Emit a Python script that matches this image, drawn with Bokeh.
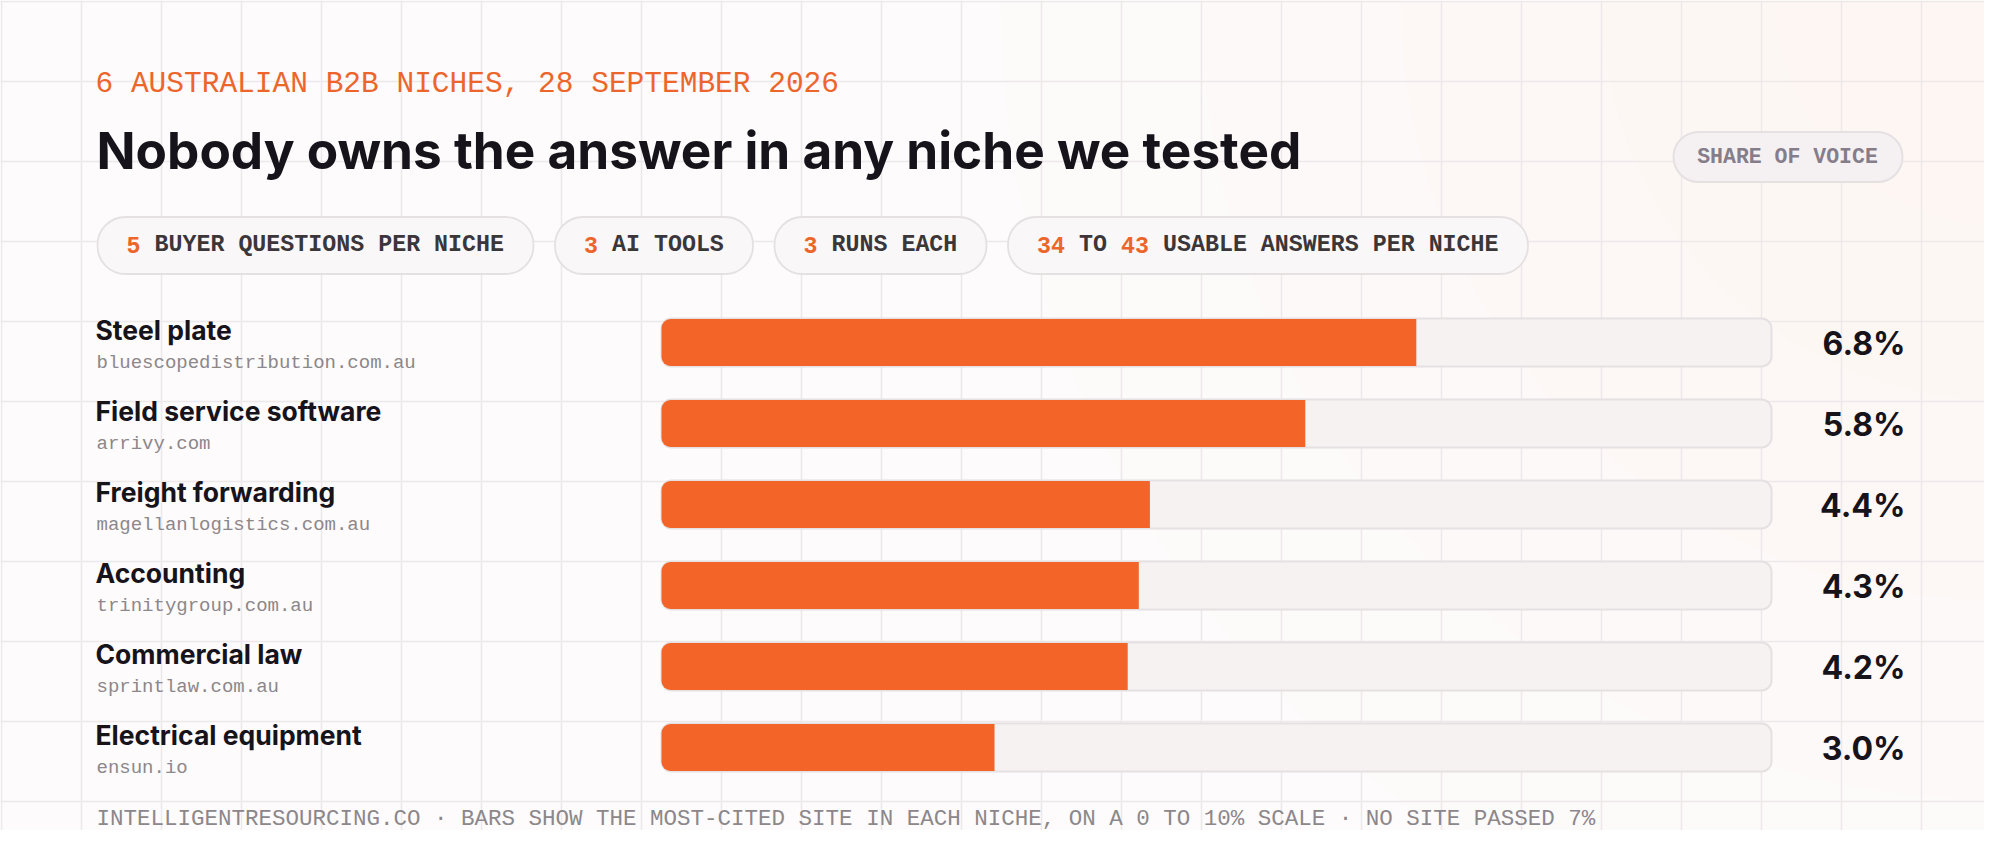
from bokeh.plotting import figure
from bokeh.models import Range1d, ColumnDataSource
from bokeh.core.properties import value
from bokeh.embed import file_html
from bokeh.resources import INLINE

# ---------------- data ----------------
niches = ["Steel plate", "Field service software", "Freight forwarding",
          "Accounting", "Commercial law", "Electrical equipment"]
top_sites = ["bluescopedistribution.com.au", "arrivy.com", "magellanlogistics.com.au",
             "trinitygroup.com.au", "sprintlaw.com.au", "ensun.io"]
share_pct = [6.8, 5.8, 4.4, 4.3, 4.2, 3.0]
scale_max = 10

kicker = "6 AUSTRALIAN B2B NICHES, 28 SEPTEMBER 2026"
headline = "Nobody owns the answer in any niche we tested"
badge = "SHARE OF VOICE"
chip_parts = [["5", "BUYER QUESTIONS PER NICHE"],
              ["3", "AI TOOLS"],
              ["3", "RUNS EACH"],
              ["34", "TO", "43", "USABLE ANSWERS PER NICHE"]]
chip_is_number = [[True, False], [True, False], [True, False], [True, False, True, False]]
footer = ("INTELLIGENTRESOURCING.CO \u00b7 BARS SHOW THE MOST-CITED SITE IN EACH NICHE, "
          "ON A 0 TO 10% SCALE \u00b7 NO SITE PASSED 7%")

# ---------------- style / layout ----------------
BG = "#fdfbfc"
GRID = "#ede8ea"
ORANGE = "#f26427"
ORANGE_TXT = "#ec662b"
INK = "#17131a"
CHIP_INK = "#3a3639"
MUTED = "#8c878a"
BADGE_INK = "#857d8a"
TRACK_FILL = "#f6f2f2"
TRACK_LINE = "#e5e0e2"
SANS = value("Inter")
MONO = value("Liberation Mono")

W, H = 1984, 830
X0_PX, PX_PER_PCT = 661, 111.0      # px of 0 %, px per 1 %
ROW0_PX, ROW_PX = 342, 81.0          # px of first row centre, row pitch


def X(px):
    return (px - X0_PX) / PX_PER_PCT


def Y(py):
    return (py - ROW0_PX) / ROW_PX


p = figure(width=W, height=H,
           x_range=Range1d(X(0), X(W)),
           y_range=Range1d(Y(H), Y(0)),
           output_backend="svg", toolbar_location=None,
           x_axis_location=None, y_axis_location=None,
           min_border=0, background_fill_color=BG, border_fill_color=BG,
           outline_line_color=None)
p.grid.visible = False

# warm glow, top right
for sz in [2000, 1600, 1200, 800, 450]:
    p.scatter(x=[X(2000)], y=[Y(0)], size=sz, marker="circle",
              fill_color="#f58a55", fill_alpha=0.01, line_color=None)

# background grid
gx = [1 + 80 * k for k in range(25)]
gy = [1 + 80 * k for k in range(11)]
p.segment(x0=[X(v) for v in gx], x1=[X(v) for v in gx],
          y0=[Y(0)] * len(gx), y1=[Y(846)] * len(gx),
          line_color=GRID, line_width=1.5)
p.segment(x0=[X(0)] * len(gy), x1=[X(2000)] * len(gy),
          y0=[Y(v) for v in gy], y1=[Y(v) for v in gy],
          line_color=GRID, line_width=1.5)

# kicker + headline
p.text(x=[X(95)], y=[Y(83.5)], text=[kicker], text_font=MONO, text_font_size="29.5px",
       text_color=ORANGE_TXT, text_baseline="middle")
p.text(x=[X(96)], y=[Y(149)], text=[headline], text_font=SANS, text_font_size="51.3px",
       text_font_style="bold", text_color=INK, text_baseline="middle")

# badge
p.hbar(y=[Y(156.5)], height=50 / ROW_PX, left=[X(1673)], right=[X(1902)],
       fill_color="#f5f1f2", line_color=TRACK_LINE, line_width=2, border_radius=25)
p.text(x=[X(1787)], y=[Y(156.5)], text=[badge], text_font=MONO, text_font_size="21.5px",
       text_font_style="bold", text_color=BADGE_INK, text_baseline="middle",
       text_align="center")

# chips
ADV = 14.0
chip_left = 97
for parts, nums in zip(chip_parts, chip_is_number):
    nchar = sum(len(s) for s in parts) + len(parts) - 1
    right = chip_left + 58 + nchar * ADV
    p.hbar(y=[Y(245)], height=57 / ROW_PX, left=[X(chip_left)], right=[X(right)],
           fill_color="#faf7f8", line_color=TRACK_LINE, line_width=1.8, border_radius=28)
    cx = chip_left + 29
    for s, isnum in zip(parts, nums):
        p.text(x=[X(cx)], y=[Y(244.5)], text=[s], text_font=MONO, text_font_size="23.3px",
               text_font_style="bold", text_color=ORANGE_TXT if isnum else CHIP_INK,
               text_baseline="middle")
        cx += (len(s) + 1) * ADV
    chip_left = right + 21.5

# rows
rows = list(range(len(niches)))
src = ColumnDataSource(dict(
    row=rows, share=share_pct, niche=niches, site=top_sites,
    label=[f"{v:.1f}%" for v in share_pct],
    name_y=[r - 13 / ROW_PX for r in rows],
    site_y=[r + 20 / ROW_PX for r in rows],
    val_y=[r + 0.5 / ROW_PX for r in rows],
    zero=[0] * len(rows), full=[scale_max] * len(rows)))

p.hbar(y="row", height=48 / ROW_PX, left="zero", right="full", source=src,
       fill_color=TRACK_FILL, line_color=TRACK_LINE, line_width=2, border_radius=10)
p.hbar(y="row", height=47 / ROW_PX, left="zero", right="share", source=src,
       fill_color=ORANGE, line_color=None, border_radius=(9, 0, 0, 9))

p.text(x=X(95), y="name_y", text="niche", source=src, text_font=SANS,
       text_font_size="26.5px", text_font_style="bold", text_color=INK,
       text_baseline="middle")
p.text(x=X(96), y="site_y", text="site", source=src, text_font=MONO,
       text_font_size="19px", text_color=MUTED, text_baseline="middle")
p.text(x=X(1905), y="val_y", text="label", source=src, text_font=SANS,
       text_font_size="32px", text_font_style="bold", text_color=INK,
       text_baseline="middle", text_align="right")

# footer
p.text(x=[X(96)], y=[Y(818)], text=[footer], text_font=MONO, text_font_size="22.5px",
       text_color=MUTED, text_baseline="middle")

open("out.html", "w").write(file_html(p, INLINE))
